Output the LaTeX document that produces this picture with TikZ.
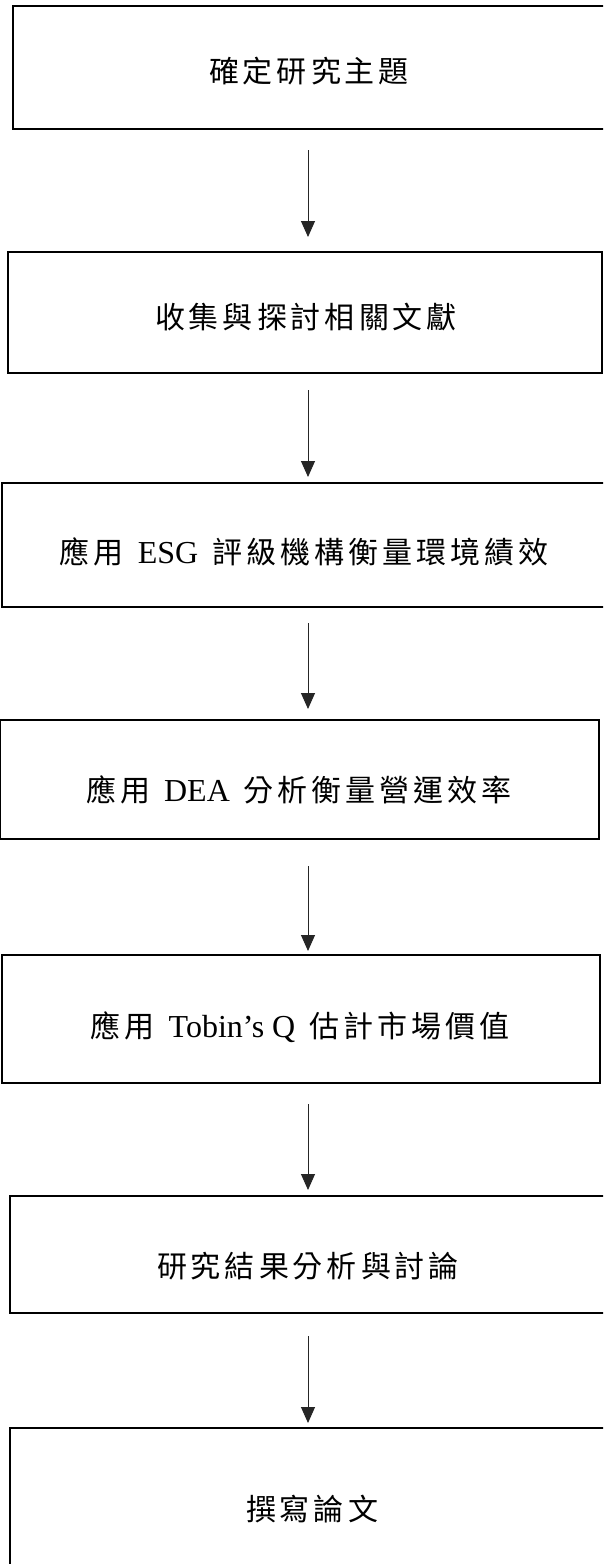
\documentclass[tikz,border=0pt]{standalone}
\usepackage{fontspec}
\setmainfont{Liberation Serif}
\newfontfamily\cjk{Noto Sans CJK TC}
\usetikzlibrary{arrows.meta}
\newlength\cgap \setlength\cgap{4pt}
\def\spacedcjk#1{{\cjk\spacedaux#1\spacedend}}
\def\spacedaux#1#2\spacedend{#1\if\relax\detokenize{#2}\relax\else\hspace{\cgap}\spacedaux#2\spacedend\fi}
\newcommand\wsep{\hspace{14pt}}
\newcommand\lat[1]{{\fontsize{32}{36}\selectfont #1}}
\tikzset{
  stepbox/.style={draw=black, line width=2pt, rectangle, inner sep=0pt, outer sep=0pt},
  lbl/.style={inner sep=0pt, font=\fontsize{30}{36}\selectfont},
  arr/.style={draw=black!85, line width=1pt, -{Triangle[length=16pt,width=14pt]}}
}
\begin{document}
\begin{tikzpicture}[x=1pt,y=-1pt]
\useasboundingbox (0,0) rectangle (603,1564);
\clip (0,0) rectangle (603,1564);
\fill[white] (0,0) rectangle (603,1564);
% boxes
\node[stepbox, minimum width=599pt, minimum height=123pt] (b1) at (312.5,67.5) {};
\node[stepbox, minimum width=594pt, minimum height=121pt] (b2) at (305,312.5) {};
\node[stepbox, minimum width=610pt, minimum height=124pt] (b3) at (307,545) {};
\node[stepbox, minimum width=599pt, minimum height=119pt] (b4) at (299.5,779.5) {};
\node[stepbox, minimum width=598pt, minimum height=128pt] (b5) at (301,1019) {};
\node[stepbox, minimum width=602pt, minimum height=117pt] (b6) at (311,1254.5) {};
\node[stepbox, minimum width=602pt, minimum height=152pt] (b7) at (311,1504) {};
% labels
\node[lbl] (t1) at (309,71) {\spacedcjk{確定研究主題}};
\node[lbl] (t2) at (306,317) {\spacedcjk{收集與探討相關文獻}};
\node[lbl] (t3) at (304,552) {\spacedcjk{應用}\wsep\lat{ESG}\wsep\spacedcjk{評級機構衡量環境績效}};
\node[lbl] (t4) at (299,790) {\spacedcjk{應用}\wsep\lat{DEA}\wsep\spacedcjk{分析衡量營運效率}};
\node[lbl] (t5) at (300,1027) {\spacedcjk{應用}\wsep\lat{Tobin’s Q}\wsep\spacedcjk{估計市場價值}};
\node[lbl] (t6) at (308,1266) {\spacedcjk{研究結果分析與討論}};
\node[lbl] (t7) at (312,1509) {\spacedcjk{撰寫論文}};
% arrows
\coordinate (ax) at (308,0);
\draw[arr, shorten <=21pt, shorten >=15pt] (b1.south -| ax) -- (b2.north -| ax);
\draw[arr, shorten <=17pt, shorten >=6pt] (b2.south -| ax) -- (b3.north -| ax);
\draw[arr, shorten <=16pt, shorten >=11pt] (b3.south -| ax) -- (b4.north -| ax);
\draw[arr, shorten <=27pt, shorten >=4pt] (b4.south -| ax) -- (b5.north -| ax);
\draw[arr, shorten <=21pt, shorten >=6pt] (b5.south -| ax) -- (b6.north -| ax);
\draw[arr, shorten <=23pt, shorten >=5pt] (b6.south -| ax) -- (b7.north -| ax);
\end{tikzpicture}
\end{document}
